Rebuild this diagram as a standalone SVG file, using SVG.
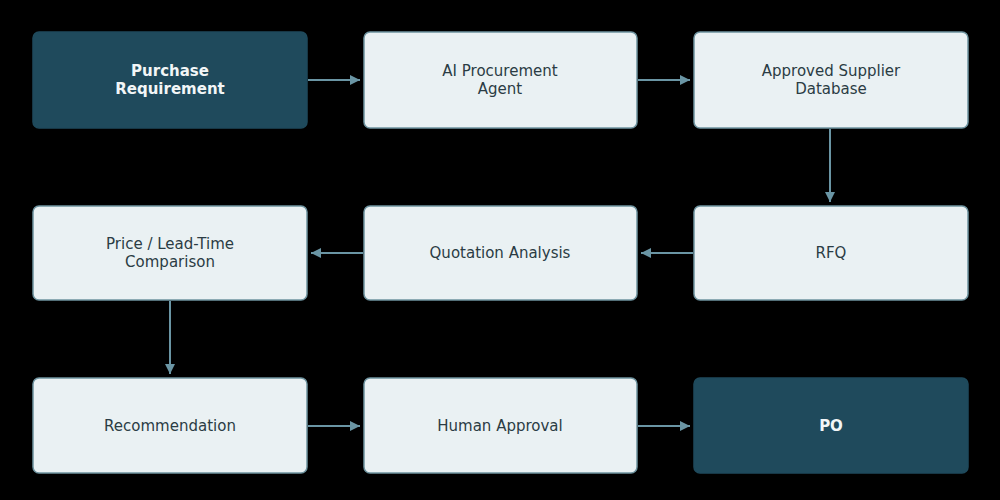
<svg xmlns="http://www.w3.org/2000/svg" width="1000" height="500" viewBox="0 0 1000 500">
<style>
.l{fill:#eaf1f3;stroke:#6f94a0;stroke-width:1.5}
.d{fill:#1f4a5c;stroke:#1f4a5c;stroke-width:1.5}
.t{font-family:"DejaVu Sans",sans-serif;font-size:15px;fill:#2b3c44;text-anchor:middle}
.tb{font-family:"DejaVu Sans",sans-serif;font-size:15px;font-weight:bold;fill:#f2f6f7;text-anchor:middle}
.c{stroke:#6a95a4;stroke-width:2;fill:none;marker-end:url(#a)}
</style>
<defs><marker id="a" viewBox="0 0 10 10" refX="10" refY="5" markerWidth="5" markerHeight="5" orient="auto"><path d="M0,0L10,5L0,10z" fill="#6a95a4"/></marker></defs>
<rect width="1000" height="500" fill="#000"/>
<g id="connectors">
<path class="c" d="M308,80H360"/>
<path class="c" d="M638,80H690"/>
<path class="c" d="M830,129V202"/>
<path class="c" d="M693,253H641"/>
<path class="c" d="M363,253H311"/>
<path class="c" d="M170,301V374"/>
<path class="c" d="M308,426H360"/>
<path class="c" d="M638,426H690"/>
</g>
<g id="n1"><rect class="d" x="33" y="32" width="274" height="96" rx="6"/><text class="tb" x="170" y="76">Purchase</text><text class="tb" x="170" y="94">Requirement</text></g>
<g id="n2"><rect class="l" x="364" y="32" width="273" height="96" rx="6"/><text class="t" x="500" y="76">AI Procurement</text><text class="t" x="500" y="94">Agent</text></g>
<g id="n3"><rect class="l" x="694" y="32" width="274" height="96" rx="6"/><text class="t" x="831" y="76">Approved Supplier</text><text class="t" x="831" y="94">Database</text></g>
<g id="n4"><rect class="l" x="694" y="206" width="274" height="94" rx="6"/><text class="t" x="831" y="258">RFQ</text></g>
<g id="n5"><rect class="l" x="364" y="206" width="273" height="94" rx="6"/><text class="t" x="500" y="258">Quotation Analysis</text></g>
<g id="n6"><rect class="l" x="33" y="206" width="274" height="94" rx="6"/><text class="t" x="170" y="249">Price / Lead-Time</text><text class="t" x="170" y="267">Comparison</text></g>
<g id="n7"><rect class="l" x="33" y="378" width="274" height="95" rx="6"/><text class="t" x="170" y="431">Recommendation</text></g>
<g id="n8"><rect class="l" x="364" y="378" width="273" height="95" rx="6"/><text class="t" x="500" y="431">Human Approval</text></g>
<g id="n9"><rect class="d" x="694" y="378" width="274" height="95" rx="6"/><text class="tb" x="831" y="431">PO</text></g>
</svg>
